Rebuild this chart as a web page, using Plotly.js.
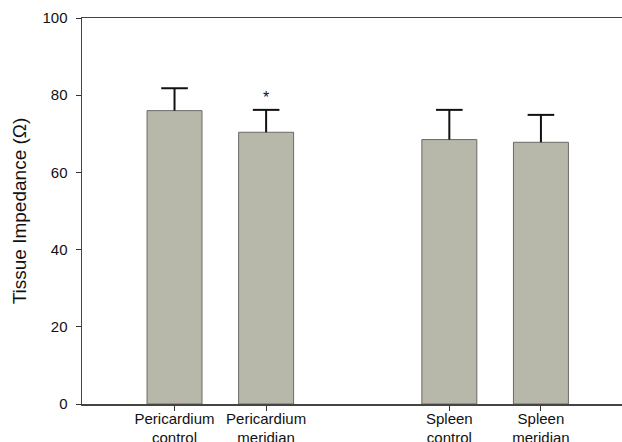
<!DOCTYPE html>
<html>
<head>
<meta charset="utf-8">
<script src="https://cdn.plot.ly/plotly-3.0.1.min.js"></script>
<style>html,body{margin:0;padding:0;background:#fff;}#chart{width:622px;height:442px;}</style>
</head>
<body>
<div id="chart"></div>
<script>
const categories = ["Pericardium<br>control", "Pericardium<br>meridian", "Spleen<br>control", "Spleen<br>meridian"];
const positions = [0, 1, 3, 4];
const means = [76.0, 70.4, 68.5, 67.8];
const errors = [5.8, 5.8, 7.7, 7.1];
const significant = [false, true, false, false];
const yTicks = [0, 20, 40, 60, 80, 100];

const family = "Liberation Sans, Arial, sans-serif";
const font = {family: family, size: 15, color: "#111"};

const bars = {
  type: "bar",
  x: positions,
  y: means,
  width: 0.6,
  marker: {color: "#b7b7aa", line: {color: "#6a6a64", width: 1}},
  error_y: {
    type: "data",
    symmetric: false,
    array: errors,
    arrayminus: means.map(() => 0),
    color: "#111",
    thickness: 2,
    width: 0
  },
  hoverinfo: "none"
};

// cross-bars at the top of each error bar
const caps = {
  type: "scatter",
  mode: "markers",
  x: positions,
  y: means.map((m, i) => m + errors[i]),
  marker: {symbol: "line-ew", size: 19, line: {color: "#111", width: 2}},
  hoverinfo: "none"
};

const annotations = positions
  .map((p, i) => significant[i] ? {
    x: p, y: means[i] + errors[i], xref: "x", yref: "y",
    text: "*", showarrow: false, yanchor: "bottom", yshift: 2,
    font: {family: family, size: 16, color: "#111"}
  } : null)
  .filter(a => a);

const layout = {
  width: 622, height: 442,
  margin: {l: 82, r: 0, t: 18, b: 38},
  paper_bgcolor: "#fff", plot_bgcolor: "#fff",
  font: font,
  showlegend: false,
  xaxis: {
    range: [-1.01, 4.885],
    tickvals: positions,
    ticktext: categories,
    ticks: "outside", ticklen: 5, tickwidth: 1, tickcolor: "#333",
    ticklabelstandoff: -5,
    showline: true, linecolor: "#444", linewidth: 1.5, mirror: true,
    showgrid: false, zeroline: false,
    tickfont: font
  },
  yaxis: {
    range: [0, 100],
    tickvals: yTicks,
    ticks: "outside", ticklen: 5, tickwidth: 1, tickcolor: "#333",
    ticklabelstandoff: 5,
    showline: true, linecolor: "#444", linewidth: 1.5,
    showgrid: false, zeroline: false,
    tickfont: font,
    title: {text: "Tissue Impedance (Ω)", font: {family: family, size: 19, color: "#111"}, standoff: 11}
  },
  annotations: annotations
};

Plotly.newPlot("chart", [bars, caps], layout, {staticPlot: true, displayModeBar: false});
</script>
</body>
</html>
